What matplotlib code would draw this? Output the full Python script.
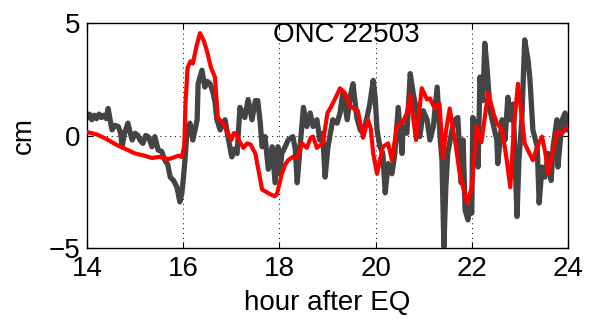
import matplotlib
matplotlib.use("Agg")
import matplotlib.pyplot as plt

plt.rcParams['font.family'] = ['Liberation Sans', 'DejaVu Sans']

# observed (gray) series
obs_hour = [14.00, 14.05, 14.10, 14.15, 14.20, 14.25, 14.30, 14.35, 14.40, 14.44, 14.48, 14.52,
            14.58, 14.65, 14.70, 14.73, 14.78, 14.85, 14.90, 14.94, 15.00, 15.06, 15.10, 15.16,
            15.22, 15.27, 15.32, 15.35, 15.41, 15.45, 15.48, 15.55, 15.62, 15.68, 15.73, 15.80,
            15.87, 15.93, 15.97, 16.00, 16.04, 16.08, 16.14, 16.20, 16.25, 16.29, 16.31, 16.35,
            16.39, 16.45, 16.50, 16.56, 16.62, 16.66, 16.70, 16.77, 16.82, 16.87, 16.93, 17.01,
            17.07, 17.12, 17.18, 17.23, 17.28, 17.35, 17.43, 17.50, 17.55, 17.60, 17.64, 17.70,
            17.77, 17.85, 17.91, 17.97, 18.01, 18.05, 18.12, 18.18, 18.28, 18.33, 18.37, 18.43,
            18.50, 18.57, 18.64, 18.70, 18.78, 18.84, 18.90, 18.95, 19.01, 19.11, 19.20, 19.26,
            19.32, 19.41, 19.47, 19.53, 19.61, 19.68, 19.74, 19.82, 19.88, 19.95, 19.99, 20.03,
            20.09, 20.15, 20.20, 20.26, 20.34, 20.40, 20.47, 20.55, 20.57, 20.65, 20.72, 20.78,
            20.86, 20.92, 20.99, 21.07, 21.13, 21.20, 21.28, 21.34, 21.38, 21.42, 21.46, 21.50,
            21.59, 21.65, 21.71, 21.78, 21.82, 21.86, 21.92, 21.96, 22.00, 22.02, 22.10, 22.13,
            22.17, 22.23, 22.27, 22.31, 22.38, 22.44, 22.52, 22.54, 22.63, 22.69, 22.75, 22.80,
            22.86, 22.94, 22.98, 23.04, 23.10, 23.17, 23.21, 23.27, 23.36, 23.40, 23.46, 23.52,
            23.59, 23.65, 23.69, 23.77, 23.79, 23.88, 23.94, 23.98, 24.00]
obs_cm = [0.8, 0.95, 0.7, 0.9, 0.75, 0.95, 0.8, 0.9, 0.75, 1.2, 0.7, 0.25,
          0.45, 0.4, 0.1, -0.5, 0.1, 0.55, 0.1, -0.2, 0.1, 0.0, -0.2, -0.35,
          0.0, -0.05, -0.3, -0.5, -0.05, -0.4, -0.65, -0.7, -1.1, -1.3, -1.85, -2.0,
          -2.3, -2.95, -2.6, -2.0, -1.0, 0.25, 0.55, -0.2, 0.3, 0.7, 2.3, 2.6,
          2.9, 2.15, 2.4, 2.3, 1.9, 1.5, 0.7, 0.25, 0.5, 0.7, -0.05, -0.95,
          -0.6, -0.8, 1.25, 1.0, 0.8, 1.6, 0.7, 1.55, 1.55, 0.6, -0.5, -0.05,
          -1.5, -0.5, -2.1, -0.5, -1.7, -0.8, -0.5, -0.2, -0.05, -0.6, -2.1, -0.5,
          1.25, 0.4, 1.0, 0.4, 0.7, -0.2, 0.1, -1.85, -0.5, 0.7, 0.55, 1.0,
          1.9, 0.7, 1.7, 2.3, 0.8, 0.25, 0.1, 0.8, 1.4, 2.45, 1.7, 0.25,
          -0.5, -0.8, -2.55, -1.25, -1.7, -0.8, 1.25, -0.8, 0.4, 0.1, 2.75, 1.9,
          1.0, -0.05, 1.1, 0.7, -0.2, 0.4, 2.15, -0.05, -1.1, -4.95, -2.3, -0.8,
          0.25, 0.7, 0.8, -2.1, -0.2, -3.3, -3.75, -3.15, -3.45, 0.8, 0.4, -1.4,
          2.6, 1.55, 4.1, 3.2, 1.1, 0.55, -0.2, -1.25, 0.7, -0.2, 1.7, 0.7,
          1.4, -3.6, -1.1, 0.7, 4.25, 3.35, 2.45, 0.25, -0.5, -3.0, -1.4, -1.85,
          -0.8, -2.0, -0.5, 0.7, -1.4, 0.7, 1.0, 0.25, 0.5]

# model (red) series
mod_hour = [14.00, 14.20, 14.40, 14.60, 14.80, 15.00, 15.20, 15.35, 15.50, 15.70, 15.90, 15.97,
            16.02, 16.05, 16.09, 16.15, 16.20, 16.28, 16.35, 16.43, 16.50, 16.58, 16.62, 16.66,
            16.72, 16.80, 16.87, 16.95, 17.00, 17.05, 17.10, 17.18, 17.25, 17.33, 17.40, 17.50,
            17.57, 17.64, 17.72, 17.80, 17.90, 17.95, 18.05, 18.12, 18.18, 18.28, 18.37, 18.47,
            18.52, 18.57, 18.65, 18.70, 18.78, 18.90, 19.00, 19.08, 19.15, 19.26, 19.36, 19.45,
            19.50, 19.63, 19.74, 19.84, 19.90, 19.95, 20.03, 20.15, 20.26, 20.34, 20.44, 20.57,
            20.65, 20.72, 20.78, 20.84, 20.96, 21.07, 21.13, 21.23, 21.33, 21.40, 21.47, 21.54,
            21.60, 21.65, 21.75, 21.90, 22.00, 22.10, 22.20, 22.34, 22.45, 22.52, 22.63, 22.72,
            22.80, 22.88, 22.96, 23.03, 23.10, 23.20, 23.27, 23.36, 23.46, 23.53, 23.59, 23.68,
            23.77, 23.88, 24.00]
mod_cm = [0.15, 0.05, -0.15, -0.4, -0.6, -0.8, -0.9, -1.0, -0.95, -1.05, -0.9, -0.95,
          -0.5, 1.5, 3.0, 3.3, 3.2, 4.0, 4.55, 4.2, 3.7, 3.0, 2.8, 2.6,
          0.8, 0.6, 0.4, 0.0, -0.2, 0.1, 0.1, -0.3, -0.55, -0.35, -0.4, -0.8,
          -1.6, -2.4, -2.5, -2.6, -2.7, -2.6, -1.7, -1.3, -1.1, -0.95, -1.0, -0.35,
          -0.45, -0.55, -0.1, -0.05, -0.55, -0.35, 1.0, 1.3, 1.6, 2.1, 1.9, 1.4,
          1.25, 1.1, -0.1, 0.7, 0.3, -0.8, -1.7, -0.5, -0.35, -1.1, 0.4, 0.6,
          1.0, 1.8, 0.8, -0.2, 2.1, 1.6, 1.65, 1.2, 1.4, -1.0, 0.3, 1.2,
          0.4, -0.2, -1.7, -3.0, -2.3, 0.4, -0.3, 1.9, 1.0, 0.55, 0.25, -1.0,
          -2.3, 0.5, 2.3, 1.0, -0.35, -0.8, -1.1, -0.5, -0.05, -0.8, -1.7, -0.8,
          0.15, 0.1, 0.4]

x_ticks = [14, 16, 18, 20, 22, 24]
y_ticks = [-5, 0, 5]
y_tick_labels = ['\u22125', '0', '5']
title_text = "ONC 22503"
x_label = "hour after EQ"
y_label = "cm"

fig = plt.figure(figsize=(5.92, 3.25), dpi=100)
ax = fig.add_axes([87/592, 1-248/325, 481/592, 225/325])

ax.plot(obs_hour, obs_cm, color='#444444', lw=3.8, solid_joinstyle='round', zorder=2)
ax.plot(mod_hour, mod_cm, color='#ff0000', lw=3.0, solid_joinstyle='round', zorder=3)

ax.set_xlim(14, 24)
ax.set_ylim(-5, 5)
ax.set_xticks(x_ticks)
ax.set_yticks(y_ticks)
ax.set_yticklabels(y_tick_labels)
ax.tick_params(direction='in', labelsize=20, length=4, width=0.8, top=True, right=True)
ax.tick_params(axis='x', pad=6)
ax.tick_params(axis='y', pad=5)
ax.grid(True, color='black', linestyle=(0, (1, 4)), linewidth=0.7)
for s in ax.spines.values():
    s.set_linewidth(1.0)

ax.text(0.54, 0.947, title_text, transform=ax.transAxes, ha='center', va='center', fontsize=20)
ax.set_xlabel(x_label, fontsize=20)
ax.set_ylabel(y_label, fontsize=20)
ax.xaxis.set_label_coords(0.5, (248 - 290) / 225)
ax.yaxis.set_label_coords((37 - 87) / 481, 0.5)

fig.savefig("out.png", dpi=100)
